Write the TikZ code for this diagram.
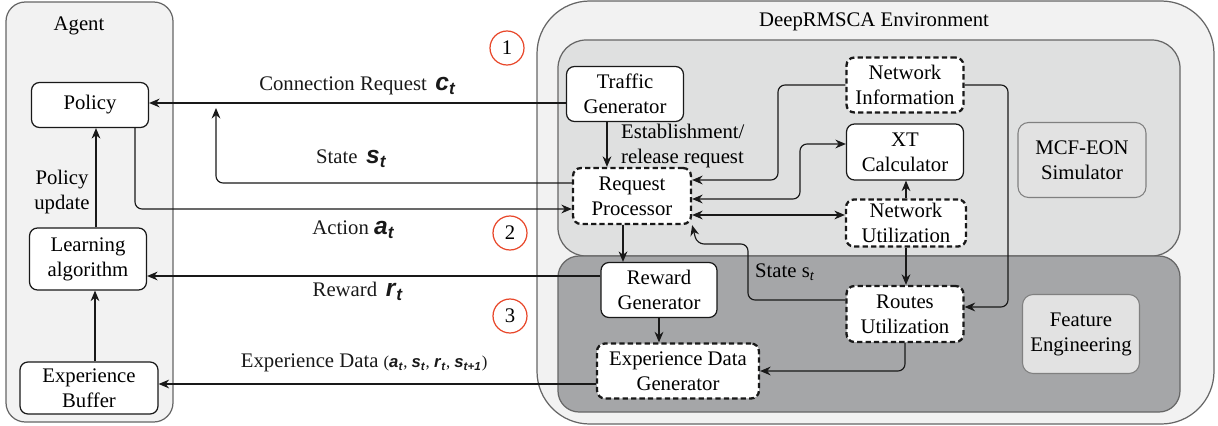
\documentclass[tikz,border=0pt]{standalone}
\usepackage{amsmath}
\usepackage{fontspec}
\setmainfont{Liberation Serif}
\setsansfont{Liberation Sans}
\usetikzlibrary{arrows.meta,positioning,calc}

\definecolor{panelgray}{HTML}{F2F2F2}
\definecolor{simgray}{HTML}{DFE0E0}
\definecolor{featgray}{HTML}{A5A6A8}
\definecolor{boxgray}{HTML}{E2E2E2}
\definecolor{circred}{HTML}{E8472A}

\newcommand{\bsym}[2]{\textsf{\bfseries\itshape #1}$_{\textsf{\bfseries\itshape #2}}$}

\begin{document}
\begin{tikzpicture}[
  x=0.02cm, y=-0.02cm,
  font=\rmfamily\fontsize{11.8}{14.2}\selectfont,
  box/.style={draw=black!90,line width=0.7pt,rounded corners=4.5pt,fill=white,
              align=center,inner sep=1pt},
  dbox/.style={box,line width=1.3pt,dash pattern=on 3pt off 1.8pt},
  panel/.style={draw=black!60,line width=0.7pt},
  grbox/.style={draw=black!50,line width=0.6pt,rounded corners=6pt,align=center,inner sep=1pt},
  num/.style={circle,draw=circred,line width=0.7pt,minimum size=0.68cm,inner sep=0pt},
  arr/.style={-{Stealth[length=6pt,width=5pt]},line width=0.65pt,black!90,rounded corners=4pt},
  darr/.style={arr,{Stealth[length=6pt,width=5pt]}-{Stealth[length=6pt,width=5pt]}}
]
  \useasboundingbox (0,0) rectangle (1218,426);

  \draw[panel,fill=panelgray,rounded corners=11pt] (6,2) rectangle (173,422);
  \draw[panel,fill=panelgray,rounded corners=30pt] (537,1) rectangle (1214,424);
  \draw[panel,fill=simgray,rounded corners=16pt] (558,40) rectangle (1180,256);
  \draw[panel,fill=featgray,rounded corners=12pt] (558,256) rectangle (1180,412);

  \node (agt) at (79,26) {Agent};
  \node (env) at (874,22) {DeepRMSCA Environment};

  \node[box,minimum width=2.34cm,minimum height=0.9cm]  (pol) at (90,105) {Policy};
  \node[box,minimum width=2.34cm,minimum height=1.24cm] (la)  at (88,259) {Learning\\algorithm};
  \node[box,minimum width=2.76cm,minimum height=1.04cm] (eb)  at (89,388) {Experience\\Buffer};
  \node[align=center] (pu) at (62,192) {Policy\\update};

  \node[box,minimum width=2.34cm,minimum height=1.1cm]   (tg)  at (625,94)  {Traffic\\Generator};
  \node[dbox,minimum width=2.36cm,minimum height=1.12cm] (rp)  at (632,196) {Request\\Processor};
  \node[box,minimum width=2.32cm,minimum height=1.1cm]   (rg)  at (659,290) {Reward\\Generator};
  \node[dbox,minimum width=3.24cm,minimum height=1.1cm]  (edg) at (678,371) {Experience Data\\Generator};
  \node[dbox,minimum width=2.34cm,minimum height=1.1cm]  (ni)  at (905,85)  {Network\\Information};
  \node[box,minimum width=2.34cm,minimum height=1.12cm]  (xt)  at (905,152) {XT\\Calculator};
  \node[dbox,minimum width=2.4cm,minimum height=0.94cm]  (nu)  at (906,223) {Network\\Utilization};
  \node[dbox,minimum width=2.34cm,minimum height=1.12cm] (ru)  at (905,314) {Routes\\Utilization};
  \node[grbox,fill=boxgray,minimum width=2.56cm,minimum height=1.5cm]  (sim) at (1082,160) {MCF-EON\\Simulator};
  \node[grbox,fill=boxgray,minimum width=2.34cm,minimum height=1.58cm] (fe)  at (1081,334) {Feature\\Engineering};

  \node[num] (n1) at (507,48)  {1};
  \node[num] (n2) at (510,233) {2};
  \node[num] (n3) at (510,316) {3};

  \node[align=left,anchor=west] (est) at (615,146) {Establishment/\\release request};
  \node (sst) at (785,272) {State s$_{\textit{t}}$};

  \coordinate (stip) at (216,108);

  \draw[arr] (la.north -| 96,0) -- (pol.south -| 96,0);
  \draw[arr] (eb.north -| 95,0) -- (la.south -| 95,0);

  \draw[arr] (tg.west |- 0,103) -- (pol.east |- 0,103)
    node[midway,above=1pt]{Connection Request \,{\fontsize{14}{14}\selectfont\bsym{c}{t}}};
  \draw[arr] (rp.west |- 0,183) -| (stip)
    node[pos=0.31,above=5pt]{State \,{\fontsize{14}{14}\selectfont\bsym{s}{t}}};
  \draw[arr] (pol.south -| 135,0) |- (rp.west |- 0,209)
    node[pos=0.75,below=3pt]{Action {\fontsize{14}{14}\selectfont\bsym{a}{t}}};
  \draw[arr] (rg.west |- 0,276) -- (la.east |- 0,276)
    node[pos=0.535,below=0pt]{Reward \,{\fontsize{14}{14}\selectfont\bsym{r}{t}}};
  \draw[arr] (edg.west |- 0,384) -- (eb.east |- 0,384)
    node[pos=0.53,above=3pt]{Experience Data {\fontsize{9.5}{10}\selectfont(\bsym{a}{t}, \bsym{s}{t}, \bsym{r}{t}, \bsym{s}{t+1})}};

  \draw[arr] (tg.south -| 607,0) -- (rp.north -| 607,0);
  \draw[arr] (rp.south -| 623,0) -- (rg.north -| 623,0);
  \draw[arr] (rg.south) -- (rg.south |- edg.north);

  \draw[arr] (ni.west) -| (778,180) -- (rp.east |- 0,180);
  \draw[darr] (rp.east |- 0,199) -| (800,144) -- (xt.west |- 0,144);
  \draw[darr] (rp.east |- 0,215) -- (nu.west |- 0,215);
  \draw[arr] (nu.north) -- (nu.north |- xt.south);
  \draw[arr] (nu.south) -- (nu.south |- ru.north);
  \draw[arr] (ni.east) -| (1008,307) -- (ru.east |- 0,307);
  \draw[arr] (ru.west |- 0,300) -| (748,244) -- (697,244) -- (rp.south east);
  \draw[arr] (ru.south) |- (edg.east);
\end{tikzpicture}
\end{document}
